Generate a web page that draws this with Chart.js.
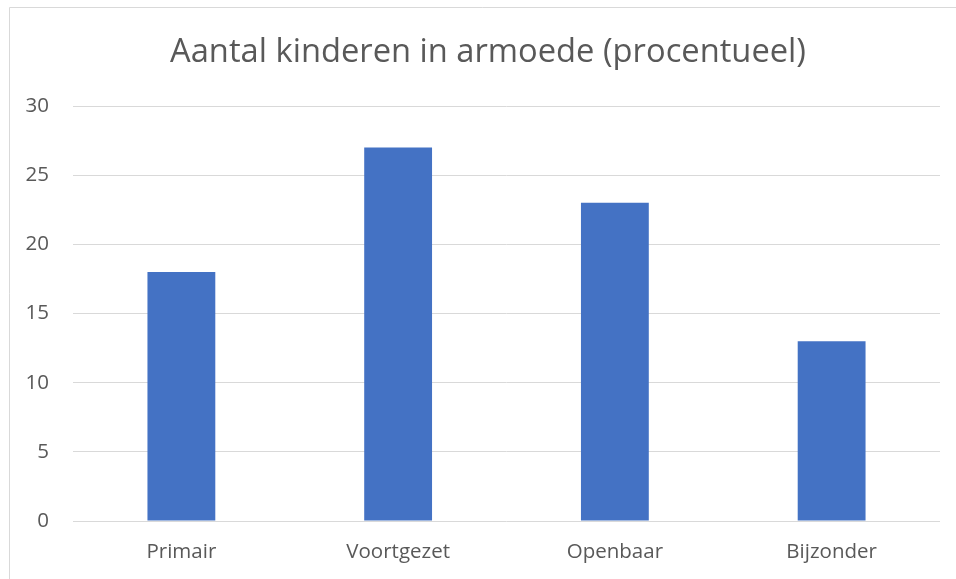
<!DOCTYPE html>
<html>
<head>
<meta charset="utf-8">
<script src="https://cdn.jsdelivr.net/npm/chart.js@4"></script>
<style>
html,body{margin:0;padding:0;background:#fff;}
#wrap{width:956px;height:579px;position:relative;}
</style>
</head>
<body>
<div id="wrap"><canvas id="c" width="956" height="579"></canvas></div>
<script>
const categories = ["Primair", "Voortgezet", "Openbaar", "Bijzonder"];
const values = [18, 27, 23, 13];
const yTicks = [0, 5, 10, 15, 20, 25, 30];
const titleText = "Aantal kinderen in armoede (procentueel)";

const FONT = "'Open Sans', 'Noto Sans', sans-serif";
const GREY = "#595959";

const frame = {
  id: 'frame',
  afterLayout(chart) {
    if (chart.titleBlock) chart.titleBlock.left = 36;
  },
  beforeDraw(chart) {
    const ctx = chart.ctx;
    ctx.save();
    ctx.fillStyle = '#fff';
    ctx.fillRect(0, 0, chart.width, chart.height);
    ctx.strokeStyle = '#d9d9d9';
    ctx.lineWidth = 1;
    ctx.beginPath();
    ctx.moveTo(9.5, chart.height);
    ctx.lineTo(9.5, 7.5);
    ctx.lineTo(chart.width, 7.5);
    ctx.stroke();
    ctx.restore();
  }
};

new Chart(document.getElementById('c'), {
  type: 'bar',
  data: {
    labels: categories,
    datasets: [{
      data: values,
      backgroundColor: '#4472C4',
      borderWidth: 0,
      categoryPercentage: 1,
      barPercentage: 0.313
    }]
  },
  options: {
    responsive: false,
    animation: false,
    devicePixelRatio: 1,
    layout: { padding: { left: 0, right: 16, top: 0, bottom: 0 } },
    plugins: {
      legend: { display: false },
      tooltip: { enabled: false },
      title: {
        display: true,
        text: titleText,
        color: GREY,
        font: { family: FONT, size: 32.7, weight: 'normal', lineHeight: 1.2 },
        padding: { top: 33, bottom: 33.8 }
      }
    },
    scales: {
      x: {
        grid: { display: false, drawTicks: false },
        border: { display: false },
        ticks: { color: GREY, font: { family: FONT, size: 20.5 }, padding: 19 },
        afterFit(scale) { scale.height = 58; }
      },
      y: {
        min: 0, max: 30,
        afterBuildTicks(scale) { scale.ticks = yTicks.map(v => ({ value: v })); },
        grid: { color: '#d9d9d9', lineWidth: 1, drawTicks: false },
        border: { display: false },
        ticks: { color: GREY, font: { family: FONT, size: 20.5 }, padding: 24 },
        afterFit(scale) { scale.width = 73; }
      }
    }
  },
  plugins: [frame]
});
</script>
</body>
</html>
